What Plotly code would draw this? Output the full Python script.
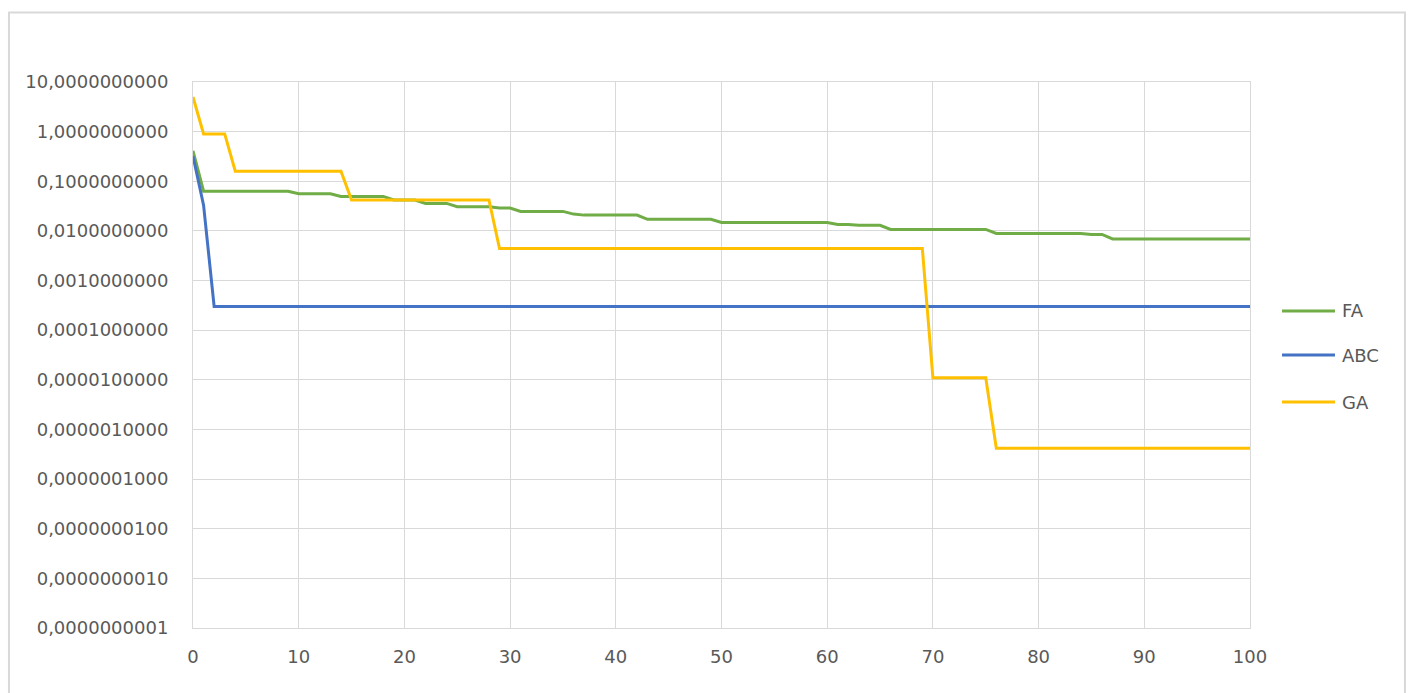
import plotly.graph_objects as go

# Iteration index (x axis)
iterations = list(range(0, 101))

# Best objective value per iteration for each algorithm
fa_values = [
    0.41,
    0.063, 0.063, 0.063, 0.063, 0.063, 0.063, 0.063, 0.063, 0.063,
    0.056, 0.056, 0.056, 0.056,
    0.0496, 0.0496, 0.0496, 0.0496, 0.0496,
    0.042, 0.042, 0.042,
    0.0358, 0.0358, 0.0358,
    0.0306, 0.0306, 0.0306, 0.0306,
    0.029, 0.029,
    0.0247, 0.0247, 0.0247, 0.0247, 0.0247,
    0.0218,
    0.0208, 0.0208, 0.0208, 0.0208, 0.0208, 0.0208,
    0.0171, 0.0171, 0.0171, 0.0171, 0.0171, 0.0171, 0.0171,
    0.0148, 0.0148, 0.0148, 0.0148, 0.0148, 0.0148, 0.0148, 0.0148, 0.0148, 0.0148, 0.0148,
    0.0135, 0.0135,
    0.013, 0.013, 0.013,
    0.0107, 0.0107, 0.0107, 0.0107, 0.0107, 0.0107, 0.0107, 0.0107, 0.0107, 0.0107,
    0.0089, 0.0089, 0.0089, 0.0089, 0.0089, 0.0089, 0.0089, 0.0089, 0.0089,
    0.0085, 0.0085,
    0.0069, 0.0069, 0.0069, 0.0069, 0.0069, 0.0069, 0.0069,
    0.0069, 0.0069, 0.0069, 0.0069, 0.0069, 0.0069, 0.0069,
]

abc_values = [
    0.32, 0.033,
    0.0003, 0.0003, 0.0003, 0.0003, 0.0003, 0.0003, 0.0003, 0.0003, 0.0003, 0.0003,
    0.0003, 0.0003, 0.0003, 0.0003, 0.0003, 0.0003, 0.0003, 0.0003, 0.0003, 0.0003,
    0.0003, 0.0003, 0.0003, 0.0003, 0.0003, 0.0003, 0.0003, 0.0003, 0.0003, 0.0003,
    0.0003, 0.0003, 0.0003, 0.0003, 0.0003, 0.0003, 0.0003, 0.0003, 0.0003, 0.0003,
    0.0003, 0.0003, 0.0003, 0.0003, 0.0003, 0.0003, 0.0003, 0.0003, 0.0003, 0.0003,
    0.0003, 0.0003, 0.0003, 0.0003, 0.0003, 0.0003, 0.0003, 0.0003, 0.0003, 0.0003,
    0.0003, 0.0003, 0.0003, 0.0003, 0.0003, 0.0003, 0.0003, 0.0003, 0.0003, 0.0003,
    0.0003, 0.0003, 0.0003, 0.0003, 0.0003, 0.0003, 0.0003, 0.0003, 0.0003, 0.0003,
    0.0003, 0.0003, 0.0003, 0.0003, 0.0003, 0.0003, 0.0003, 0.0003, 0.0003, 0.0003,
    0.0003, 0.0003, 0.0003, 0.0003, 0.0003, 0.0003, 0.0003, 0.0003, 0.0003,
]

ga_values = [
    5.0,
    0.9, 0.9, 0.9,
    0.16, 0.16, 0.16, 0.16, 0.16, 0.16, 0.16, 0.16, 0.16, 0.16, 0.16,
    0.042, 0.042, 0.042, 0.042, 0.042, 0.042, 0.042,
    0.042, 0.042, 0.042, 0.042, 0.042, 0.042, 0.042,
    0.0044, 0.0044, 0.0044, 0.0044, 0.0044, 0.0044, 0.0044, 0.0044, 0.0044, 0.0044,
    0.0044, 0.0044, 0.0044, 0.0044, 0.0044, 0.0044, 0.0044, 0.0044, 0.0044, 0.0044,
    0.0044, 0.0044, 0.0044, 0.0044, 0.0044, 0.0044, 0.0044, 0.0044, 0.0044, 0.0044,
    0.0044, 0.0044, 0.0044, 0.0044, 0.0044, 0.0044, 0.0044, 0.0044, 0.0044, 0.0044,
    0.0044,
    1.1e-5, 1.1e-5, 1.1e-5, 1.1e-5, 1.1e-5, 1.1e-5,
    4.2e-7, 4.2e-7, 4.2e-7, 4.2e-7, 4.2e-7, 4.2e-7, 4.2e-7, 4.2e-7, 4.2e-7, 4.2e-7,
    4.2e-7, 4.2e-7, 4.2e-7, 4.2e-7, 4.2e-7, 4.2e-7, 4.2e-7, 4.2e-7, 4.2e-7, 4.2e-7,
    4.2e-7, 4.2e-7, 4.2e-7, 4.2e-7, 4.2e-7,
]

series_names = ["FA", "ABC", "GA"]
series_colors = ["#70AD47", "#4472C4", "#FFC000"]

# Log-axis ticks and their labels (decimal comma, 10 places)
y_tickvals = [1e1, 1e0, 1e-1, 1e-2, 1e-3, 1e-4, 1e-5, 1e-6, 1e-7, 1e-8, 1e-9, 1e-10]
y_ticktext = [
    "10,0000000000", "1,0000000000", "0,1000000000", "0,0100000000",
    "0,0010000000", "0,0001000000", "0,0000100000", "0,0000010000",
    "0,0000001000", "0,0000000100", "0,0000000010", "0,0000000001",
]
x_tickvals = [0, 10, 20, 30, 40, 50, 60, 70, 80, 90, 100]

TEXT = "#595959"
GRID = "#D9D9D9"
FONT = "DejaVu Sans"

fig = go.Figure()
for name, vals, color in zip(series_names, [fa_values, abc_values, ga_values], series_colors):
    fig.add_trace(go.Scatter(
        x=iterations, y=vals, name=name, mode="lines",
        line=dict(color=color, width=3),
        showlegend=False,
    ))

# Legend drawn beside the plot area
legend_y = [0.5806, 0.5, 0.4139]
for name, color, ly in zip(series_names, series_colors, legend_y):
    fig.add_shape(type="line", xref="paper", yref="paper",
                  x0=1.0303, x1=1.0804, y0=ly, y1=ly,
                  line=dict(color=color, width=3))
    fig.add_annotation(xref="paper", yref="paper", x=1.0851, y=ly,
                       text=name, showarrow=False, xanchor="left", yanchor="middle",
                       font=dict(family=FONT, size=18, color=TEXT))

# Outer chart border
fig.add_shape(type="rect", xref="paper", yref="paper",
              x0=-0.1741, x1=1.1466, y0=-0.2, y1=1.1273,
              line=dict(color=GRID, width=2), fillcolor="rgba(0,0,0,0)", layer="below")

fig.update_layout(
    width=1410, height=693,
    margin=dict(l=193, r=160, t=82, b=65),
    paper_bgcolor="white", plot_bgcolor="white",
    font=dict(family=FONT, size=18, color=TEXT),
    showlegend=False,
)
fig.update_xaxes(
    range=[0, 100], tickvals=x_tickvals, ticks="",
    showgrid=True, gridcolor=GRID, gridwidth=1, zeroline=False,
    showline=True, linecolor=GRID, linewidth=1, mirror=True,
    tickfont=dict(family=FONT, size=18, color=TEXT),
    ticklabelstandoff=12,
)
fig.update_yaxes(
    type="log", range=[-10, 1], tickvals=y_tickvals, ticktext=y_ticktext, ticks="",
    showgrid=True, gridcolor=GRID, gridwidth=1, zeroline=False,
    showline=True, linecolor=GRID, linewidth=1, mirror=True,
    tickfont=dict(family=FONT, size=18, color=TEXT),
    ticklabelstandoff=20,
)

fig.write_html("out.html")
